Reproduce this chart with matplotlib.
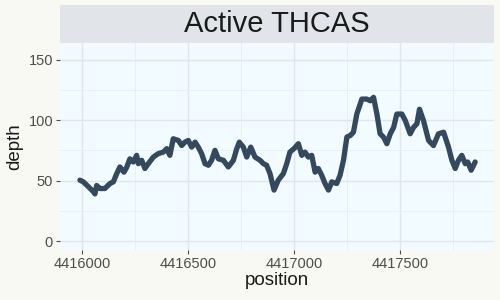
import matplotlib
matplotlib.use("Agg")
import matplotlib.pyplot as plt

position = [4415988, 4416004, 4416028, 4416051, 4416059, 4416067, 4416083, 4416106,
            4416130, 4416146, 4416162, 4416177, 4416196, 4416209, 4416224, 4416240,
            4416256, 4416264, 4416280, 4416295, 4416311, 4416335, 4416358, 4416382,
            4416398, 4416413, 4416429, 4416453, 4416469, 4416484, 4416500, 4416516,
            4416532, 4416547, 4416563, 4416579, 4416595, 4416610, 4416626, 4416642,
            4416666, 4416689, 4416713, 4416729, 4416741, 4416760, 4416776, 4416795,
            4416815, 4416839, 4416855, 4416870, 4416886, 4416905, 4416925, 4416949,
            4416965, 4416980, 4416999, 4417020, 4417036, 4417051, 4417067, 4417083,
            4417099, 4417114, 4417130, 4417146, 4417162, 4417178, 4417201, 4417217,
            4417233, 4417249, 4417265, 4417280, 4417296, 4417320, 4417343, 4417359,
            4417375, 4417391, 4417406, 4417422, 4417438, 4417454, 4417470, 4417485,
            4417509, 4417525, 4417548, 4417564, 4417580, 4417592, 4417611, 4417635,
            4417658, 4417682, 4417706, 4417729, 4417745, 4417761, 4417776, 4417792,
            4417808, 4417820, 4417836, 4417855]
depth = [50.4, 49, 45, 41, 39, 46, 43.5, 43.5,
         47.6, 49, 55.8, 61.3, 57, 61, 68, 65.4,
         70.9, 64, 66.8, 60, 64, 69.5, 72.3, 73.6,
         76.4, 70.9, 84.6, 83.2, 79, 81.8, 83.2, 77.7,
         81.8, 77.7, 72.3, 64, 62.7, 66.8, 75, 68,
         66.8, 61.3, 66.8, 76.4, 81.8, 77.7, 69.5, 77.7,
         69.5, 66.8, 64, 62.7, 55.8, 42.2, 50.4, 55.8,
         64, 73.6, 76.4, 80.5, 70.9, 73.6, 69.5, 70.9,
         57, 60, 54.5, 47.6, 42.2, 49, 47.6, 54.5,
         66.8, 86, 87.3, 90, 105, 117.4, 117.4, 116,
         118.8, 105, 88.7, 86, 80.5, 88.7, 94, 105,
         105, 99.6, 88.7, 94, 97, 109, 99.6, 83.2,
         79, 88.7, 90, 77.7, 66.8, 60, 66.8, 70.9,
         64, 65.4, 58.6, 65.4]
title = "Active THCAS"
xticks = [4416000, 4416500, 4417000, 4417500]
yticks = [0, 50, 100, 150]

plt.rcParams['font.family'] = ['Liberation Sans', 'DejaVu Sans']

fig = plt.figure(figsize=(5, 3), dpi=100)
fig.patch.set_facecolor('#f9f9f4')
W, H = 500, 300
ax = fig.add_axes([60 / W, 1 - 250 / H, 434 / W, 207 / H])
ax.set_facecolor('#f2fbff')

ax.plot(position, depth, color='#34495e', lw=3.8, solid_joinstyle='round', solid_capstyle='round')

ax.set_xlim(4415894, 4417944)
ax.set_ylim(-7.3, 163.7)
ax.set_xticks(xticks)
ax.set_xticklabels([str(t) for t in xticks])
ax.set_yticks(yticks)
ax.set_xticks([4416250, 4416750, 4417250, 4417750], minor=True)
ax.set_yticks([25, 75, 125], minor=True)
ax.grid(True, which='major', color='#e0e6ea', lw=1.0)
ax.grid(True, which='minor', color='#e8eef2', lw=0.6)
ax.set_axisbelow(True)
for s in ax.spines.values():
    s.set_visible(False)
ax.tick_params(axis='both', which='major', colors='#4d4d4d', labelsize=10.5, length=3, width=0.8, pad=2)
ax.tick_params(axis='both', which='minor', length=0)
ax.tick_params(axis='both', labelcolor='#4d4d4d')
ax.set_xlabel('position', fontsize=13.5, color='#1a1a1a', labelpad=1)
ax.set_ylabel('depth', fontsize=13.5, color='#1a1a1a', labelpad=4)

sax = fig.add_axes([60 / W, 1 - 43 / H, 434 / W, 38 / H])
sax.set_facecolor('#e1e5e9')
sax.set_xticks([]); sax.set_yticks([])
for s in sax.spines.values():
    s.set_visible(False)
sax.text(0.5, 0.5, title, ha='center', va='center', fontsize=21, color='#1a1a1a', transform=sax.transAxes)

fig.savefig('out.png', dpi=100, facecolor=fig.get_facecolor())
